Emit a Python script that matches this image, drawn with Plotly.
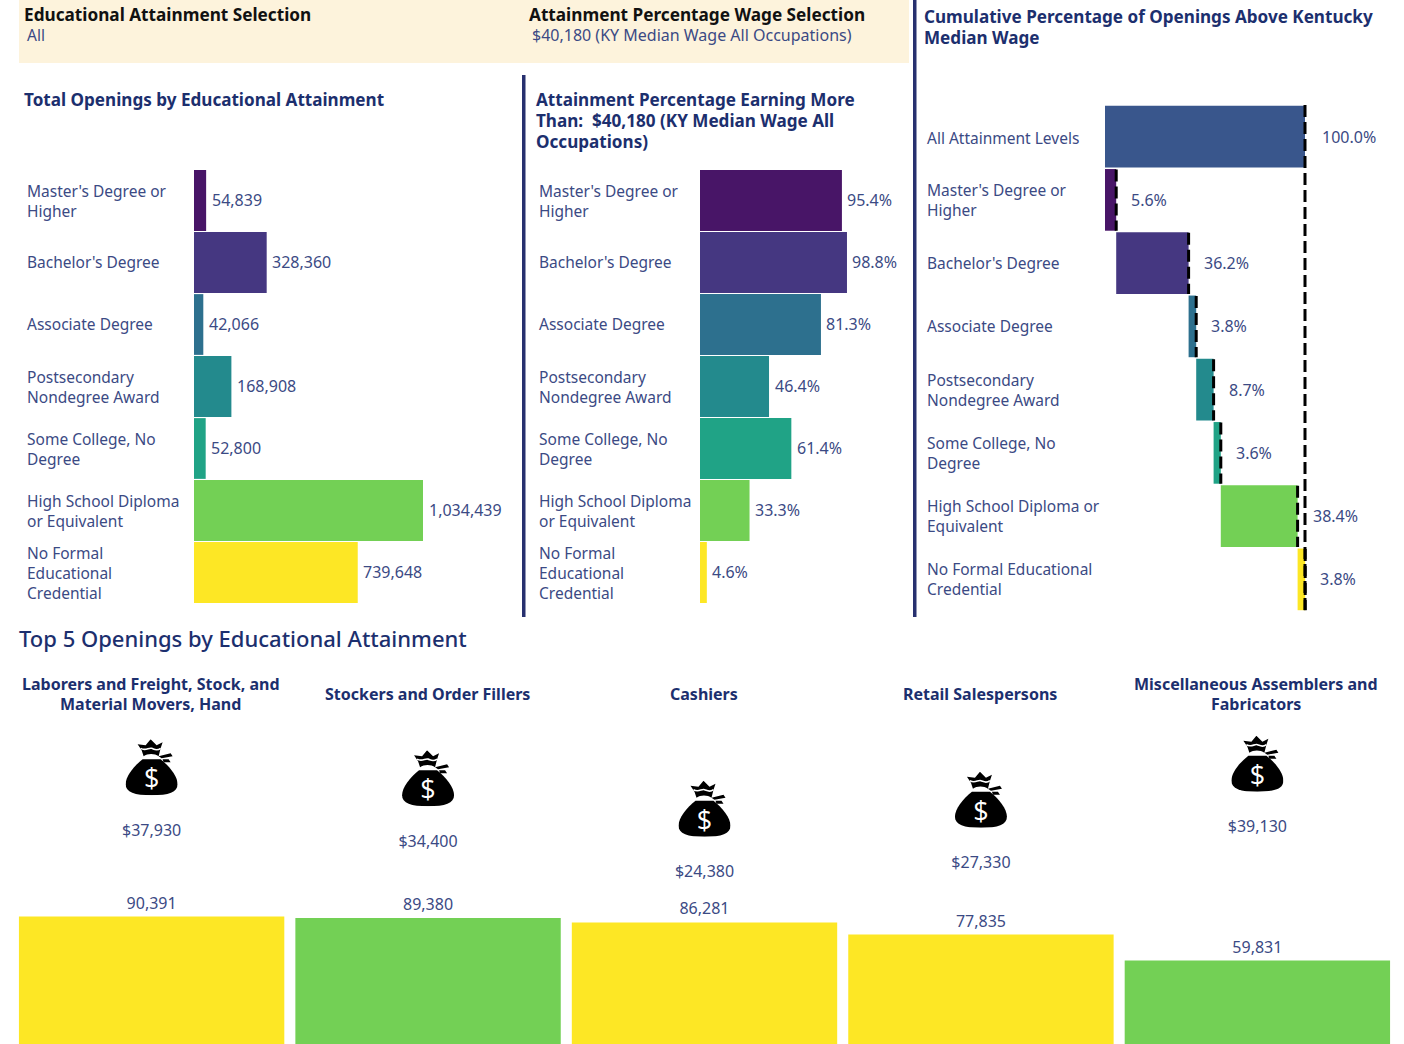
import base64
import numpy as np
import plotly.graph_objects as go

# ---------- data ----------
attainment = ["Master's Degree or Higher", "Bachelor's Degree", "Associate Degree",
              "Postsecondary Nondegree Award", "Some College, No Degree",
              "High School Diploma or Equivalent", "No Formal Educational Credential"]
labels_left = ["Master's Degree or<br>Higher", "Bachelor's Degree", "Associate Degree",
               "Postsecondary<br>Nondegree Award", "Some College, No<br>Degree",
               "High School Diploma<br>or Equivalent", "No Formal<br>Educational<br>Credential"]
labels_right = ["All Attainment Levels", "Master's Degree or<br>Higher", "Bachelor's Degree",
                "Associate Degree", "Postsecondary<br>Nondegree Award", "Some College, No<br>Degree",
                "High School Diploma or<br>Equivalent", "No Formal Educational<br>Credential"]
total_openings = [54839, 328360, 42066, 168908, 52800, 1034439, 739648]
pct_above = [95.4, 98.8, 81.3, 46.4, 61.4, 33.3, 4.6]
cum_share = [5.6, 36.2, 3.8, 8.7, 3.6, 38.4, 3.8]
colors = ["#481567", "#453781", "#2d708e", "#238a8d", "#20a386", "#73d055", "#fde725"]
all_color = "#39568c"

occupations = ["Laborers and Freight, Stock, and Material Movers, Hand",
               "Stockers and Order Fillers", "Cashiers", "Retail Salespersons",
               "Miscellaneous Assemblers and Fabricators"]
occupation_titles = ["Laborers and Freight, Stock, and<br>Material Movers, Hand",
                     "Stockers and Order Fillers", "Cashiers", "Retail Salespersons",
                     "Miscellaneous Assemblers and<br>Fabricators"]
occ_openings = [90391, 89380, 86281, 77835, 59831]
occ_wage = [37930, 34400, 24380, 27330, 39130]
occ_colors = ["#fde725", "#73d055", "#fde725", "#fde725", "#73d055"]

# ---------- style ----------
W, H = 1404, 1044
FONT = "Noto Sans"
NAVY = "#1c2f6e"
TXT = "#3b4a84"
RULE = "#27306f"
LBL = 15.5
VAL = 16


def px(x):
    return x / W


def py(y):
    return 1 - y / H


fig = go.Figure()
ann = []


def note(text, x, y, size=LBL, color=TXT, bold=False, anchor="left", xref="paper", yref="paper",
         xshift=0, yshift=0, spacing=None, weight=None):
    """Text annotation; with spacing, each line is placed on its own at that pixel distance."""
    lines = text.split("<br>") if spacing else [text]
    for k, line in enumerate(lines):
        dy = -(k - (len(lines) - 1) / 2) * spacing if spacing else 0
        t = f"<b>{line}</b>" if bold else line
        f = dict(family=FONT, size=size, color=color)
        if weight:
            f["weight"] = weight
        ann.append(dict(text=t, x=x, y=y, xref=xref, yref=yref, xanchor=anchor, yanchor="middle",
                        xshift=xshift, yshift=yshift + dy, showarrow=False, align=anchor, font=f))


# header strip and headings
shapes = [
    dict(type="rect", xref="paper", yref="paper", x0=px(19), x1=px(909), y0=py(0), y1=py(63),
         fillcolor="#fdf3dc", line_width=0, layer="below"),
    dict(type="rect", xref="paper", yref="paper", x0=px(522), x1=px(525.5), y0=py(75), y1=py(617),
         fillcolor=RULE, line_width=0),
    dict(type="rect", xref="paper", yref="paper", x0=px(913), x1=px(916.5), y0=py(0), y1=py(617),
         fillcolor=RULE, line_width=0),
]
note("Educational Attainment Selection", px(22), py(14), 17.2, "#111111", True)
note("All", px(25), py(34.5), 15.5)
note("Attainment Percentage Wage Selection", px(527), py(14), 17.2, "#111111", True)
note("$40,180 (KY Median Wage All Occupations)", px(530), py(34.5), 16)
note("Total Openings by Educational Attainment", px(22), py(99.5), 17.1, NAVY, True)
note("Attainment Percentage Earning More<br>Than:  $40,180 (KY Median Wage All<br>Occupations)",
     px(534), py(120.5), 17.1, NAVY, True, spacing=21)
note("Cumulative Percentage of Openings Above Kentucky<br>Median Wage", px(922), py(27), 17.1, NAVY, True, spacing=21)
note("Top 5 Openings by Educational Attainment", px(17), py(638), 22, NAVY, weight=500)

# panel 1: total openings
fig.add_trace(go.Bar(y=attainment, x=total_openings, orientation="h", width=0.98,
                     marker=dict(color=colors, line_width=0), xaxis="x", yaxis="y", showlegend=False))
# panel 2: percentage above wage
fig.add_trace(go.Bar(y=attainment, x=pct_above, orientation="h", width=0.98,
                     marker=dict(color=colors, line_width=0), xaxis="x2", yaxis="y2", showlegend=False))
for i, lab in enumerate(labels_left):
    nudge = -0.5 if "<br>" in lab else 0.5
    note(lab, px(25), i, xref="paper", yref="y", yshift=nudge)
    note(f"{total_openings[i]:,}", total_openings[i], i, VAL, xref="x", yref="y", xshift=3.5, yshift=0.5)
    note(lab, px(537), i, xref="paper", yref="y2", yshift=nudge)
    note(f"{pct_above[i]:.1f}%", pct_above[i], i, VAL, xref="x2", yref="y2", xshift=3.5, yshift=0.5)

# panel 3: cumulative (floating) bars
cum_end = np.cumsum(cum_share)
cum_start = cum_end - np.array(cum_share)
rows8 = np.arange(8)
fig.add_trace(go.Bar(y=rows8, x=[100.0] + cum_share, base=[0.0] + list(cum_start), orientation="h", width=0.975,
                     marker=dict(color=[all_color] + colors, line_width=0),
                     xaxis="x3", yaxis="y3", showlegend=False))
dash = dict(color="black", width=3, dash="12px,5px")
fig.add_trace(go.Scatter(x=[100, 100], y=[-0.5, 7.5], mode="lines", line=dash, xaxis="x3", yaxis="y3",
                         showlegend=False, hoverinfo="skip"))
for i, end in enumerate(cum_end):
    fig.add_trace(go.Scatter(x=[end, end], y=[i + 0.52, i + 1.49], mode="lines", line=dash, xaxis="x3", yaxis="y3",
                             showlegend=False, hoverinfo="skip"))
for i, lab in enumerate(labels_right):
    note(lab, px(925), i, xref="paper", yref="y3", yshift=-1 if i == 0 else 0)
note("100.0%", 100, 0, VAL, xref="x3", yref="y3", xshift=14.5)
for i, (v, end) in enumerate(zip(cum_share, cum_end)):
    note(f"{v:.1f}%", end, i + 1, VAL, xref="x3", yref="y3", xshift=13)

# bottom: top-5 occupations
fig.add_trace(go.Bar(x=occupations, y=occ_openings, width=0.96, marker=dict(color=occ_colors, line_width=0),
                     text=[f"{v:,}" for v in occ_openings], textposition="outside", cliponaxis=False,
                     textfont=dict(family=FONT, size=VAL, color=TXT),
                     xaxis="x4", yaxis="y4", showlegend=False))
fig.add_trace(go.Scatter(x=occupations, y=occ_wage, mode="text", text=[f"${v:,}" for v in occ_wage],
                         textposition="middle center", textfont=dict(family=FONT, size=VAL, color=TXT),
                         xaxis="x4", yaxis="y5", showlegend=False))
for i, title in enumerate(occupation_titles):
    note(title, i, py(694), 16, NAVY, True, anchor="center", xref="x4", xshift=-1, spacing=20)

# money-bag icon
svg = """<svg xmlns='http://www.w3.org/2000/svg' viewBox='0 0 52 56' width='52' height='56'>
<path d='M17 20C8 27 0 37 0 45C0 53 9 56 26 56C43 56 52 53 52 45C52 37 44 27 35 20Z' fill='black'/>
<path d='M12 5L20 6L25 0L31 6L37 3L35 9L33 17C29 14 22 14 18 17L16 11Z' fill='black'/>
<path d='M15 9C20 12 23 8 26 9C29 10 31 12 35 9' stroke='white' stroke-width='1.6' fill='none'/>
<path d='M33 17L45 14L47 17L36 19Z M37 20L43 20L45 23L38 23Z' fill='black'/>
<text x='26' y='49' font-family='Open Sans' font-weight='400' font-size='27' fill='white' text-anchor='middle'>$</text>
</svg>"""
uri = "data:image/svg+xml;base64," + base64.b64encode(svg.encode()).decode()
WAGE_PX = 0.00305
images = [dict(source=uri, xref="x4", yref="y5", x=i, y=w + 64.5 / WAGE_PX, sizex=52 / 276.25, sizey=56 / WAGE_PX,
               xanchor="center", yanchor="middle", sizing="contain", layer="above")
          for i, w in enumerate(occ_wage)]

off = dict(showgrid=False, zeroline=False, showticklabels=False, ticks="", showline=False, fixedrange=True)
fig.update_layout(
    width=W, height=H, margin=dict(l=0, r=0, t=0, b=0), paper_bgcolor="white", plot_bgcolor="rgba(0,0,0,0)",
    font=dict(family=FONT, color=TXT), barmode="overlay", shapes=shapes, annotations=ann, images=images,
    xaxis=dict(off, domain=[px(194), px(520)], range=[0, 1472600], anchor="y"),
    yaxis=dict(off, domain=[py(603.5), py(169.5)], range=[6.5, -0.5], type="category",
               categoryorder="array", categoryarray=attainment, anchor="x"),
    xaxis2=dict(off, domain=[px(700), px(905)], range=[0, 137.8], anchor="y2"),
    yaxis2=dict(off, domain=[py(603.5), py(169.5)], range=[6.5, -0.5], type="category",
                categoryorder="array", categoryarray=attainment, anchor="x2"),
    xaxis3=dict(off, domain=[px(1105), px(1395)], range=[0, 145], anchor="y3"),
    yaxis3=dict(off, domain=[py(611), py(105)], range=[7.5, -0.5], anchor="x3"),
    xaxis4=dict(off, domain=[px(13.4), px(1395.6)], range=[-0.5, 4.5], type="category",
                categoryorder="array", categoryarray=occupations, anchor="y4"),
    yaxis4=dict(off, domain=[0, py(720)], range=[1875, 226875], anchor="x4"),
    yaxis5=dict(off, domain=[0, py(720)], range=[-31623, 74607], overlaying="y4", anchor="x4"),
)
fig.write_html("out.html", post_script="document.body.style.margin='0';", config={"displayModeBar": False})
